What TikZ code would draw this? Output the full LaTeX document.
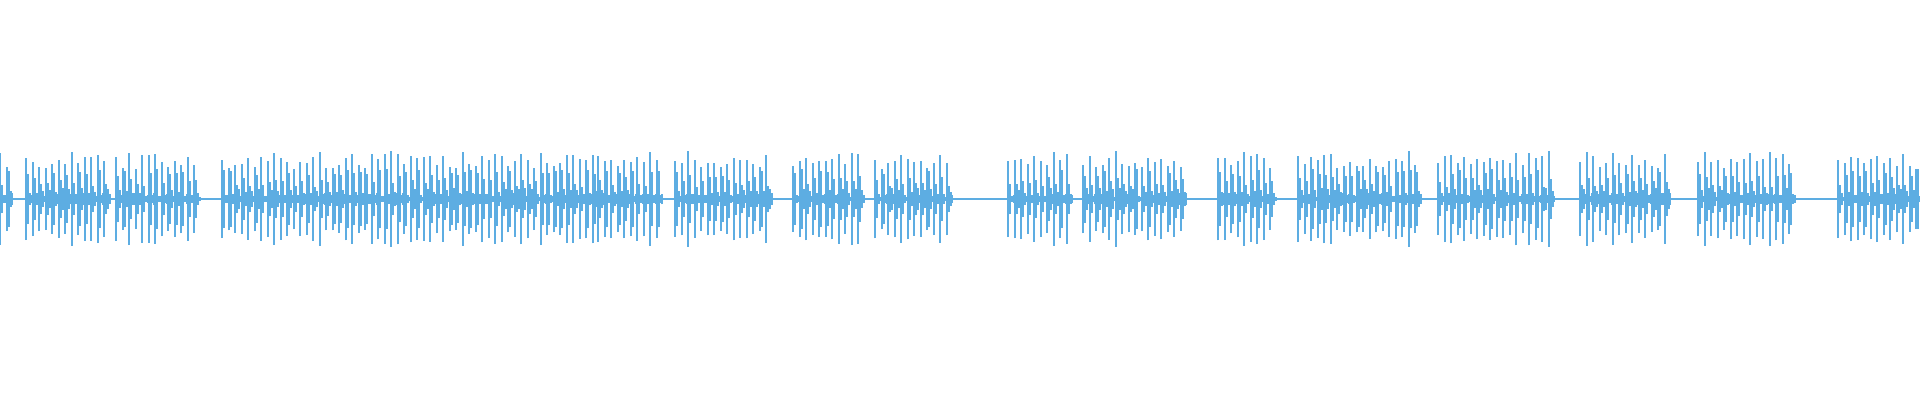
\documentclass[tikz,border=0pt]{standalone}
\definecolor{wave}{HTML}{5DADE2}
\begin{document}
\begin{tikzpicture}[x=1pt,y=1pt,wv/.style={draw=wave,line width=2pt}]
\useasboundingbox (0,0) rectangle (1920,400);
\pgfmathsetseed{7}
\draw[wave,line width=1.6pt] (0,201) -- (1920,201);
\foreach \a/\b in {0/8,26/108,116/195,222/595,598/660,675/770,793/860,875/950,1008/1068,1083/1185,1218/1270,1298/1420,1438/1550,1580/1665,1698/1795,1838/1920}{
  \pgfmathtruncatemacro\n{(\b-\a)/6.5}
  \foreach \k in {0,...,\n}{
    \pgfmathsetmacro\x{\a+\k*6.5}
    \pgfmathsetmacro\h{30+18*rnd}
    \pgfmathsetmacro\hb{12+18*rnd}
    \pgfmathsetmacro\hc{3+8*rnd}
    \pgfmathsetmacro\hd{2+4*rnd}
    \draw[wv] (\x,201-\h) -- (\x,201+\h);
    \draw[wv] (\x+2.2,201-\hb) -- (\x+2.2,201+\hb);
    \draw[wv] (\x+4,201-\hc) -- (\x+4,201+\hc);
    \draw[wv] (\x+5.5,201-\hd) -- (\x+5.5,201+\hd);
  }
}
\end{tikzpicture}
\end{document}
